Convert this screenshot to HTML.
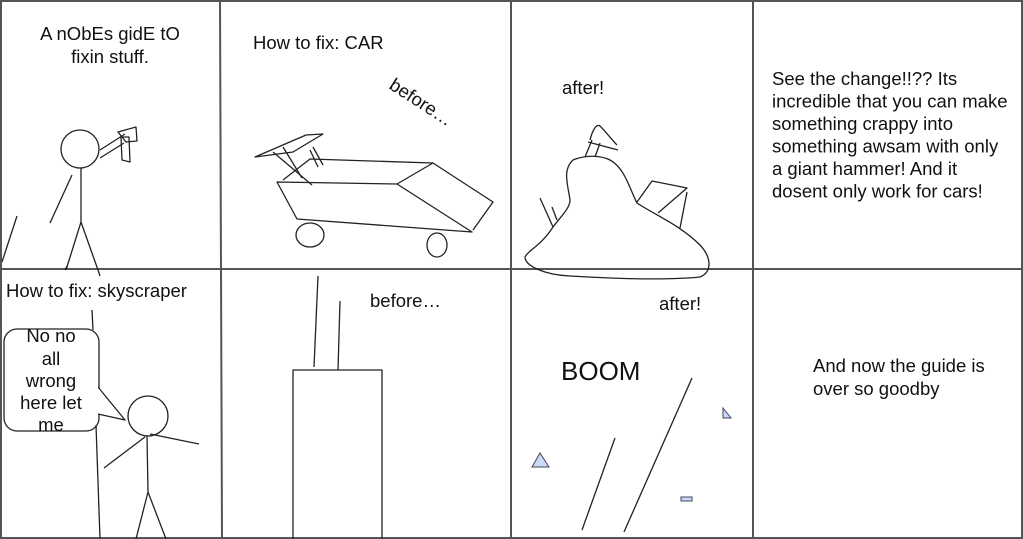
<!DOCTYPE html>
<html><head><meta charset="utf-8"><style>
html,body{margin:0;padding:0;background:#fff;}
svg{display:block;}
text{font-family:"Liberation Sans",Arial,sans-serif;fill:#111;font-size:18.5px;}
</style></head><body>
<svg width="1023" height="539" viewBox="0 0 1023 539" xmlns="http://www.w3.org/2000/svg">
<g stroke="#555" stroke-width="2" fill="none">
<rect x="1" y="1" width="1021" height="537"/>
<line x1="220" y1="0" x2="222" y2="539"/>
<line x1="511" y1="0" x2="511" y2="539"/>
<line x1="753" y1="0" x2="753" y2="539"/>
<line x1="0" y1="269" x2="1023" y2="269"/>
</g>
<g stroke="#222" stroke-width="1.3" fill="none" stroke-linejoin="round">
<circle cx="80" cy="149" r="19"/>
<line x1="81" y1="168" x2="81" y2="222"/>
<line x1="81" y1="222" x2="66" y2="270"/>
<line x1="81" y1="222" x2="98" y2="270"/>
<line x1="72" y1="175" x2="50" y2="223"/>
<line x1="17" y1="216" x2="2" y2="262"/>
<line x1="100" y1="150" x2="125" y2="134"/>
<line x1="100" y1="158" x2="124" y2="143"/>
<polygon points="118,132 136,127 137,141 126,142"/>
<polygon points="121,137 129,137 130,162 122,160"/>
<polygon points="277,182 397,184 472,232 297,219"/>
<polyline points="397,184 433,163 493,202 473,230"/>
<polyline points="433,163 310,159 283,180"/>
<polygon points="255,157 306,135 323,134 293,152"/>
<line x1="273" y1="152" x2="312" y2="185"/>
<line x1="283" y1="147" x2="302" y2="178"/>
<line x1="313" y1="147" x2="323" y2="165"/>
<line x1="310" y1="150" x2="318" y2="167"/>
<ellipse cx="310" cy="235" rx="14" ry="12"/>
<ellipse cx="437" cy="245" rx="10" ry="12"/>
<path d="M553,227 C562,215 570,208 570,200 C568,185 562,170 573,160 C585,155 600,155 610,160 C625,168 630,190 637,203 C655,215 680,225 700,245 C712,258 712,272 700,277 C670,280 620,279 570,276 C545,275 525,266 525,257 C528,250 540,247 553,227 Z"/>
<line x1="585" y1="157" x2="592" y2="140"/>
<line x1="595" y1="157" x2="600" y2="143"/>
<line x1="588" y1="142" x2="618" y2="150"/>
<path d="M590,140 C592,132 596,123 600,126 C606,132 612,140 617,145"/>
<line x1="540" y1="198" x2="553" y2="227"/>
<line x1="552" y1="207" x2="557" y2="220"/>
<polyline points="637,202 652,181 687,188 658,213"/>
<line x1="687" y1="192" x2="680" y2="228"/>
<rect x="4" y="329" width="95" height="102" rx="13"/>
<polyline points="98,387 125,420 98,414" fill="#fff" stroke="#222"/>
<line x1="92" y1="310" x2="93" y2="330"/>
<line x1="96" y1="425" x2="100" y2="539"/>
<circle cx="148" cy="416" r="20"/>
<line x1="147" y1="436" x2="148" y2="492"/>
<line x1="148" y1="492" x2="136" y2="539"/>
<line x1="148" y1="492" x2="166" y2="539"/>
<line x1="145" y1="437" x2="104" y2="468"/>
<line x1="150" y1="434" x2="199" y2="444"/>
<line x1="65" y1="270" x2="67" y2="266"/>
<line x1="98" y1="270" x2="100" y2="276"/>
<line x1="318" y1="276" x2="314" y2="367"/>
<line x1="340" y1="301" x2="338" y2="370"/>
<polyline points="293,539 293,370 382,370 382,539"/>
<line x1="615" y1="438" x2="582" y2="530"/>
<line x1="692" y1="378" x2="624" y2="532"/>
</g>
<g stroke="#445" stroke-width="1" fill="#c9daf8">
<polygon points="532,467 540,453 549,467"/>
<polygon points="723,408 723,418 731,418"/>
<rect x="681" y="497" width="11" height="4"/>
</g>
<rect x="5" y="330" width="93" height="100" rx="12" fill="#fff" stroke="none"/>
<text x="110" y="40" text-anchor="middle">A nObEs gidE tO</text>
<text x="110" y="63" text-anchor="middle">fixin stuff.</text>
<text x="253" y="49">How to fix: CAR</text>
<text x="388" y="88" transform="rotate(33 388 88)">before…</text>
<text x="562" y="94">after!</text>
<text x="772" y="85">See the change!!?? Its</text>
<text x="772" y="107.5">incredible that you can make</text>
<text x="772" y="130">something crappy into</text>
<text x="772" y="152.5">something awsam with only</text>
<text x="772" y="175">a giant hammer! And it</text>
<text x="772" y="197.5">dosent only work for cars!</text>
<text x="6" y="297">How to fix: skyscraper</text>
<g text-anchor="middle">
<text x="51" y="342">No no</text>
<text x="51" y="365">all</text>
<text x="51" y="387">wrong</text>
<text x="51" y="409">here let</text>
<text x="51" y="431">me</text>
</g>
<text x="370" y="307">before…</text>
<text x="659" y="310">after!</text>
<text x="561" y="380" style="font-size:26px">BOOM</text>
<text x="813" y="372">And now the guide is</text>
<text x="813" y="395">over so goodby</text>
</svg>
</body></html>
